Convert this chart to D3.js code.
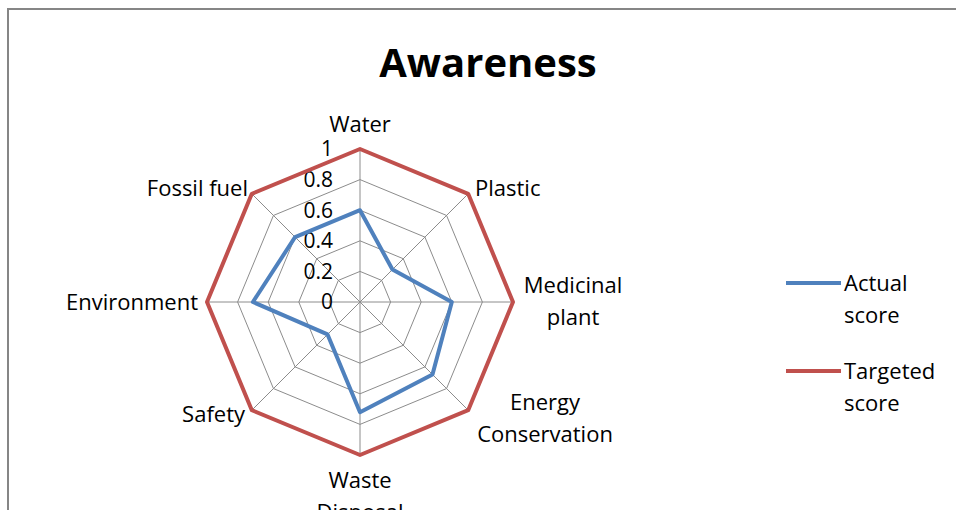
<!DOCTYPE html>
<html lang="en">
<head>
  <meta charset="UTF-8">
  <title>Awareness</title>
  <script src="https://cdn.jsdelivr.net/npm/d3@7"></script>
  <style>
    body { margin: 0; background: #fff; }
    text { font-family: "Open Sans", sans-serif; fill: #000; }
  </style>
</head>
<body>
  <div id="chart"></div>

  <script>
    // Data
    var categories = [["Water"], ["Plastic"], ["Medicinal", "plant"], ["Energy", "Conservation"],
      ["Waste", "Disposal"], ["Safety"], ["Environment"], ["Fossil fuel"]];
    var actualScore = [0.6, 0.3, 0.6, 0.67, 0.72, 0.3, 0.7, 0.6];
    var targetedScore = [1, 1, 1, 1, 1, 1, 1, 1];
    var tickValues = [0, 0.2, 0.4, 0.6, 0.8, 1];
    var seriesNames = [["Actual", "score"], ["Targeted", "score"]];
    var seriesColors = ["#4F81BD", "#C0504D"];

    var width = 956, height = 510;
    var cx = 360, cy = 302, radius = 153;

    var svg = d3.select("#chart")
      .append("svg")
      .attr("width", width)
      .attr("height", height);

    // chart frame
    svg.append("path")
      .attr("d", "M8,512 L8,9 L960,9")
      .attr("fill", "none")
      .attr("stroke", "#868686")
      .attr("stroke-width", 2);

    // title
    svg.append("text")
      .attr("x", 488)
      .attr("y", 77)
      .attr("text-anchor", "middle")
      .style("font-size", "40px")
      .style("font-weight", "bold")
      .text("Awareness");

    var r = d3.scaleLinear().domain([0, 1]).range([0, radius]);
    var n = categories.length;
    var angle = function (i) { return i * 2 * Math.PI / n; };

    var g = svg.append("g").attr("transform", "translate(" + cx + "," + cy + ")");

    // grid rings
    var ringLine = d3.lineRadial()
      .angle(function (d, i) { return angle(i); })
      .radius(function (d) { return r(d); })
      .curve(d3.curveLinearClosed);

    g.selectAll(".ring")
      .data(tickValues.slice(1))
      .enter()
      .append("path")
      .attr("class", "ring")
      .attr("fill", "none")
      .attr("stroke", "#8c8c8c")
      .attr("stroke-width", 1)
      .attr("d", function (t) { return ringLine(categories.map(function () { return t; })); });

    // spokes
    g.selectAll(".spoke")
      .data(categories)
      .enter()
      .append("line")
      .attr("class", "spoke")
      .attr("x1", 0).attr("y1", 0)
      .attr("x2", function (d, i) { return r(1) * Math.sin(angle(i)); })
      .attr("y2", function (d, i) { return -r(1) * Math.cos(angle(i)); })
      .attr("stroke", "#8c8c8c")
      .attr("stroke-width", 1);

    // tick labels
    g.selectAll(".tick")
      .data(tickValues)
      .enter()
      .append("text")
      .attr("class", "tick")
      .attr("x", -27)
      .attr("y", function (d) { return -r(d); })
      .attr("dy", "0.35em")
      .attr("text-anchor", "end")
      .style("font-size", "21px")
      .text(function (d) { return d; });

    // series
    var seriesLine = d3.lineRadial()
      .angle(function (d, i) { return angle(i); })
      .radius(function (d) { return r(d); })
      .curve(d3.curveLinearClosed);

    g.selectAll(".series")
      .data([actualScore, targetedScore])
      .enter()
      .append("path")
      .attr("class", "series")
      .attr("fill", "none")
      .attr("stroke", function (d, i) { return seriesColors[i]; })
      .attr("stroke-width", 4)
      .attr("stroke-linejoin", "round")
      .attr("d", seriesLine);

    // category labels
    var labelPos = [
      { x: 0, y: -178, anchor: "middle" },
      { x: 115, y: -114, anchor: "start" },
      { x: 213, y: -17, anchor: "middle" },
      { x: 185, y: 100, anchor: "middle" },
      { x: 0, y: 178, anchor: "middle" },
      { x: -115, y: 112, anchor: "end" },
      { x: -162, y: 0, anchor: "end" },
      { x: -112, y: -114, anchor: "end" }
    ];
    var labels = g.selectAll(".cat")
      .data(categories)
      .enter()
      .append("text")
      .attr("class", "cat")
      .attr("text-anchor", function (d, i) { return labelPos[i].anchor; })
      .style("font-size", "22px");
    labels.selectAll("tspan")
      .data(function (d, i) { return d.map(function (s, k) { return { s: s, k: k, p: labelPos[i] }; }); })
      .enter()
      .append("tspan")
      .attr("x", function (d) { return d.p.x; })
      .attr("y", function (d) { return d.p.y + d.k * 32; })
      .attr("dy", "0.35em")
      .text(function (d) { return d.s; });

    // legend
    var legend = svg.append("g").attr("transform", "translate(786,283)");
    var items = legend.selectAll(".item")
      .data(seriesNames)
      .enter()
      .append("g")
      .attr("class", "item")
      .attr("transform", function (d, i) { return "translate(0," + i * 88 + ")"; });
    items.append("line")
      .attr("x1", 0).attr("x2", 55)
      .attr("stroke", function (d, i) { return seriesColors[i]; })
      .attr("stroke-width", 4);
    items.append("text")
      .style("font-size", "22px")
      .selectAll("tspan")
      .data(function (d) { return d; })
      .enter()
      .append("tspan")
      .attr("x", 58)
      .attr("y", function (d, k) { return k * 32; })
      .attr("dy", "0.35em")
      .text(function (d) { return d; });
  </script>
</body>
</html>
